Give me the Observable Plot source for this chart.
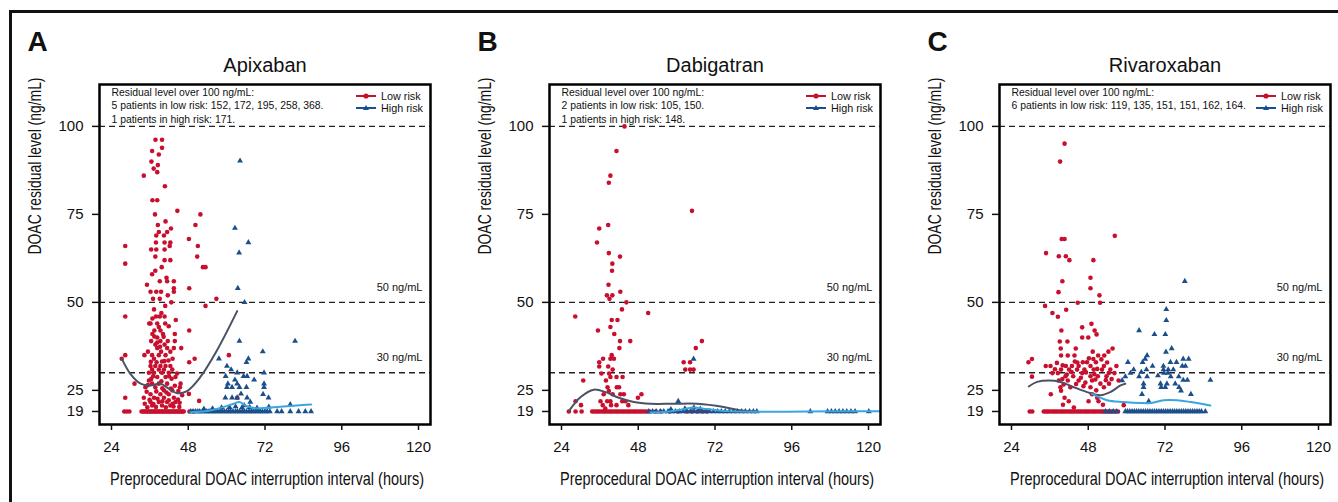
<!DOCTYPE html>
<html><head><meta charset="utf-8">
<script src="https://cdn.jsdelivr.net/npm/d3@7"></script>
<script src="https://cdn.jsdelivr.net/npm/@observablehq/plot@0.6"></script>
<style>
body{margin:0;background:#fff;}
#wrap{position:relative;width:1338px;height:502px;overflow:hidden;background:#fff;font-family:"Liberation Sans",Arial,sans-serif;}
#border{position:absolute;left:9px;top:10px;width:1400px;height:600px;border:3px solid #111;box-sizing:border-box;pointer-events:none;z-index:5;}
.panel{position:absolute;top:0;}
.legend{position:absolute;top:89px;z-index:4;}
</style></head>
<body><div id="wrap"><div id="border"></div></div>
<script>
// ---------- data ----------
const xTicks = [24, 48, 72, 96, 120];
const yTicks = [19, 25, 50, 75, 100];
const refLines = [100, 50, 30];
const refLabels = [50, 30];
const floorValue = 19;
const drugs = ["Apixaban", "Dabigatran", "Rivaroxaban"];
const letters = ["A", "B", "C"];
const notes = [
  "Residual level over 100 ng/mL:\n5 patients in low risk: 152, 172, 195, 258, 368.\n1 patients in high risk: 171.",
  "Residual level over 100 ng/mL:\n2 patients in low risk: 105, 150.\n1 patients in high risk: 148.",
  "Residual level over 100 ng/mL:\n6 patients in low risk: 119, 135, 151, 151, 162, 164."
];
const riskLabels = ["Low risk", "High risk"];

// Apixaban
const apixabanLow = [[37.75,96.2],[39.8,96.2],[39.8,93.9],[36.7,93],[38.8,92],[36.5,90],[38.5,89],[37.2,88],[38.3,87],[34.1,86],[40.7,83],[36.8,79],[38.3,79],[44.6,76],[37.6,75],[51.8,75],[50.25,72],[40.9,73],[38.5,72],[42.6,71],[41.4,70],[38.8,70],[38,69],[40.4,69],[48.2,68],[28.3,66],[37.9,67],[40.6,67],[42.4,67],[51,66],[36.4,65],[38,65],[40.6,65],[42.2,66],[37.7,63],[40.6,62],[42.4,62],[50.8,63],[28.3,61],[52.6,60],[53.4,60],[39.7,60],[36.7,58],[37.7,59],[41.2,57],[39.1,56],[41.4,56],[43.5,56],[35.1,55],[48.3,54],[43.5,54],[36.2,53],[38,53],[39.5,53],[41.6,52],[43.5,53],[37,51],[39.1,51],[56.8,51],[42.7,50],[40.8,49],[53.4,49],[37.3,48],[39.6,47],[28.3,46],[37.9,46],[39.1,46],[40.6,46],[44.1,45],[36.2,44],[38.3,44],[40.8,44],[35.8,44],[38.8,43],[37.4,42],[39.3,42],[48.3,42],[40.1,41],[36.8,41],[43.8,41],[38.3,40],[36.4,39],[39.3,39],[41.6,39],[43.8,39],[37.7,38],[40.6,38],[38.3,37],[41.4,37],[43.5,37],[45.8,37],[35.4,36],[39.5,36],[42.4,36],[34.3,35],[36.7,35],[38.8,35],[40.9,35],[28.3,35],[27.2,34],[50,34],[48.3,33],[37.3,34],[43.1,34],[36.2,31.9],[37.7,31.9],[39.3,31.9],[40.9,31.9],[42.4,31.9],[60.7,35],[36.7,30.9],[38.8,30.9],[40.4,30.9],[43,30.9],[35.7,30],[37.3,30],[39.8,30],[41.9,30],[35.7,27.8],[38.3,28.8],[40.9,28.8],[44,28.8],[44.5,29.8],[31.2,26.9],[36.7,26.9],[38.8,26.9],[41.4,26.9],[45.6,26.9],[34.6,25.9],[37.7,25.9],[40.4,25],[43,25],[45.4,25.9],[48.2,24],[36.2,23.9],[39.3,23.9],[41.9,23.9],[28.3,22.9],[34.1,22.9],[37.3,22.9],[40.4,22.9],[43.5,22.9],[63.3,22.9],[51.4,22],[36.2,21.7],[38.8,21.7],[41.4,21.7],[44,21.7],[36.7,20.7],[39.8,20.7],[42.4,20.7],[35.2,20.2],[37.9,20.3],[41,20.2],[43.4,20.4],[45.2,20.3],[44.8,22.4],[46.1,23.6],[35,24.6],[38,24.7],[42.6,25.5],[39.6,27.6],[37,29],[42.8,28.3],[36.3,33.1],[39.8,33.2],[41.8,33.5],[38.3,38.6],[40.3,40.2],[34.4,21.2],[35.9,22.3],[37.1,21.1],[38.4,22.6],[39.9,21.9],[41.9,22.2],[43.1,21.2],[45.3,21.5],[35.4,26.5],[36.4,28.2],[39.9,25.6],[41.2,24.4],[43.8,26.3],[44.9,24.8],[38.1,33],[40.5,33.3],[42,29],[39.2,37.4],[37.4,40.3],[41.9,43.2],[36.8,45.4]];
const apixabanLowFloor = [28,28.8,29.6,33.4,33.9,34.2,34.7,35.1,35.4,35.9,36.3,36.6,37.1,37.4,37.9,38.2,38.7,39,39.5,39.8,40.3,40.6,41.1,41.4,41.9,42.2,42.7,43,43.5,43.8,44.3,44.6,45.1,45.4,45.9,46.2,46.6,48.4,49.6];
const apixabanHigh = [[64.2,90.2],[62.6,71.1],[66.8,67],[63.9,64.1],[63.5,54],[65.6,50],[64,39],[81.4,39],[71.3,36],[57.6,34],[66.8,34],[66.2,33],[60.1,31.9],[61.4,30.9],[63.3,30],[65.3,29],[59.7,29],[71.7,30],[68.6,28],[62.6,28],[66.4,29],[60.1,25.9],[61.7,25.9],[64,25.9],[66.2,25.9],[71.7,26.9],[71.7,25.9],[60.4,26.9],[63.3,26.9],[64.5,24],[59.6,22.9],[61.7,22.9],[63.3,22.9],[66.4,22.9],[71.4,23.9],[73.1,22.9],[67.4,21.7],[65.5,20.7],[79.9,21],[73.2,20.3],[58.4,20.1],[60.9,20.2],[62.8,20.4],[64.8,20.1],[67.2,20.2],[69.5,20],[55.6,19.8],[52.9,19.7]];
const apixabanHighFloor = [48.8,49.5,50.3,51,51.6,52.4,53,53.8,54.5,55.1,55.9,56.5,57.2,58,58.6,59.3,60,60.7,61.3,62,62.8,63.4,64.1,64.9,65.5,66.2,67,67.7,68.3,69.1,69.8,70.5,71.2,72,72.7,73.5,75.8,77.2,79.9,82.5,84.6,86.4];
const apixabanLowFit = [[27.2,34],[29.9,29.7],[33.1,26.9],[36.2,26.4],[39.3,26.9],[41.9,25.5],[44.5,24.2],[47.6,24.8],[51.8,28.8],[57,36.4],[63.3,47.5]];
const apixabanHighFit = [[48.7,18.8],[54.9,19.3],[59.1,20.3],[62.2,21.2],[64,21.7],[66.4,20.5],[69.5,19.9],[75.8,20.3],[82,20.7],[86.4,21]];

// Dabigatran
const dabigatranLow = [[43.7,100],[41.2,93],[39.3,86],[38.8,84],[64.8,76],[35.8,71],[38.6,72],[35.1,67],[42.3,63],[38.8,64],[39.9,61],[39.8,59],[38.7,55],[42.4,53],[38.2,52],[39.9,52],[39,51],[44.3,50],[28.3,46],[42.9,48],[51.1,47],[39.7,45],[41.5,45],[39.3,43],[35.4,42],[40.5,41],[42.3,39],[45.5,39],[67.9,39],[42.1,37],[66,37],[37,34],[39.7,35],[39.3,34],[40.4,34],[35.8,33],[35.8,31.8],[38.6,31.8],[62.2,33],[64.2,33],[40,30.9],[62.7,30.9],[64.2,30.9],[65.3,30.9],[36.5,29.8],[38.9,29.8],[30.8,27.8],[41.2,28.8],[43.1,28.8],[37.9,27.8],[39.3,28.8],[38.4,25.9],[41.3,25.9],[42,25.9],[38.8,24.8],[40,23.9],[37.2,23.9],[42.4,23.9],[43.5,23.9],[49,23.9],[47.9,22.9],[28.4,21.9],[36.2,21.9],[38.3,21.9],[39.3,21.9],[43,21.9],[44,21.9],[30.1,20.8],[36.9,20.8],[39.5,20.8],[41.2,20.8],[44.9,20.8],[37.7,19.8]];
const dabigatranLowFloor = [26.3,28.4,30.3,33.6,34.2,34.9,35.5,36.1,36.8,37.4,38,38.7,39.3,39.9,40.6,41.2,41.8,42.5,43.1,43.7,44.4,45,45.6,46.3,46.9,47.5,48.2,48.8,49.4,50.1,50.8,51.6,53.5,55,57.8,60.5,63.2,64.8,66.5,68.1,69.5];
const dabigatranHigh = [[65.3,33.9],[60.5,21.9],[65.4,20.1],[58.2,19.6],[62.6,19.8],[67.4,19.7]];
const dabigatranHighFloor = [51.3,52.5,53.6,54.9,56,57.3,58.5,59.6,60.8,62,63.2,64.3,65.5,66.7,67.9,69,70.3,71.5,72.8,74,75.2,76.5,77.8,79,80.3,81.5,82.8,84,85.1,101.8,107.2,108.4,109.6,110.8,112,113.2,114.5,115.8,120.1];
const dabigatranLowFit = [[26.3,19.1],[30,23.1],[34.1,25.2],[37.8,24.5],[41.9,22.9],[46.6,21.7],[51.8,21.2],[59.1,21.2],[66.4,21.2],[74.7,20.3],[80,19.3],[85,19]];
const dabigatranHighFit = [[51.8,18.7],[57,18.9],[61.2,19.5],[65.4,20.1],[69.5,19.7],[75.8,19.1],[85.1,18.9],[100.8,19],[123.7,19.1]];

// Rivaroxaban
const rivaroxabanLow = [[40.6,95.1],[39.2,90],[39.7,68],[40.6,68],[56.3,68.9],[34.8,64],[38.8,63.1],[41,63.1],[42.1,62],[49.6,62],[48.7,57],[39.9,56],[48.7,54],[38.7,52.9],[51.5,52],[44.7,49.9],[51.7,49.9],[34.5,49],[41.1,47.9],[36.8,47],[38.5,45.9],[49,43.9],[39.6,42],[46.1,42.9],[50,42],[46.1,40],[48,40],[50.6,40.9],[39.1,38.9],[41.5,38.9],[44.1,36.9],[39.4,36.9],[49.4,36],[54.3,36],[55.6,36.9],[29.3,33],[30.4,33.9],[39.5,34.9],[41.6,34.9],[43.7,34.9],[46.3,33],[47.6,33],[49.6,33.9],[51.1,34.9],[53,34.9],[50.4,33],[34.7,31.9],[36.2,31.9],[41,31.9],[42.9,31.9],[45,31.9],[48.7,31.9],[52.9,31.9],[56.8,31.9],[36.8,29.9],[39.5,30.9],[42,30.9],[44.5,30.9],[46.8,30.9],[49.7,30.9],[52.3,30.9],[54.9,30.9],[38.5,29.9],[40.9,29],[43.3,29],[46.1,29.9],[48.7,29],[51,29],[53.7,29],[56.2,29.9],[30.4,28.9],[57.5,27.8],[38.8,27.8],[41.6,27.8],[45,27.8],[49.2,27.8],[51.8,26.9],[54.5,26.9],[39.3,25.9],[42.4,25.9],[48.7,25.9],[52.9,25.9],[36.3,23.9],[39.5,24.9],[40.6,22.9],[41.9,21.9],[49.2,23.9],[50.8,22.9],[48.1,21.9],[52.6,20.9],[59.1,20.8],[43.5,20.1],[40.1,20.9],[51.2,21.9],[37.6,31],[40,32.1],[43.8,33.2],[47.3,30.1],[50.8,31.1],[53.9,32.9],[39.9,28.2],[44.2,26.8],[47.1,27.2],[50.2,28.1],[55.3,28.2],[42.8,30.2],[38.2,32.8],[44.6,32.9],[48.2,34.1],[52.1,33.8],[41.3,29.5],[45.7,28.6],[49.9,29.6],[54.4,29.9],[40.3,26.7],[46.5,26.2],[50.5,25],[53.5,27.9]];
const rivaroxabanLowFloor = [29.7,30.5,34.1,34.7,35.3,35.9,36.6,37.2,37.8,38.4,39.1,39.7,40.3,40.9,41.6,42.2,42.8,43.4,44.1,44.7,45.3,45.9,46.6,47.2,47.8,48.4,49.1,49.7,50.3,50.9,51.6,52.2,52.8,53.4,54.1,54.7,55.3,55.9,56.6,57.3];
const rivaroxabanHigh = [[78.2,56],[72.4,48],[72.4,44.9],[63.9,42],[68.7,40.9],[72.1,40.9],[74.1,36.9],[72.3,35.9],[66.4,34.9],[65.8,33.9],[77.7,33.9],[79.4,33.9],[60.4,33],[65,33],[68.1,31.9],[71.5,31.9],[73.7,33],[75.6,33],[77.4,31.9],[78.4,31.9],[62.2,30.9],[66.2,30.9],[71.5,30.9],[73,30.9],[59.6,28.9],[61.2,29.9],[63.9,28.9],[66.4,28.9],[71.7,29.9],[73.8,28.9],[76.3,28.9],[77.7,27.9],[79,27.9],[86.2,27.9],[58.6,27.8],[65.3,26.9],[70.6,26.9],[72.6,26.9],[75.2,26.9],[65.3,25.9],[70.8,25.9],[72.1,25.9],[76.4,25.9],[77,24.9],[80.1,23.9],[64.8,23.9],[66.9,21.9],[72.9,29.9],[74.6,30.9],[69.8,29.2],[64.6,30.2]];
const rivaroxabanHighFloor = [53.4,54.6,55.8,56.9,59.6,60.3,61,61.7,62.4,63.1,63.8,64.5,65.2,65.9,66.6,67.3,68,68.7,69.4,70.1,70.8,71.5,72.2,72.9,73.6,74.3,75,75.7,76.4,77.1,77.8,78.5,79.2,79.9,80.6,81.3,82,82.7,83.4,84.6];
const rivaroxabanLowFit = [[29.4,26.1],[32,27.4],[35.7,27.8],[39.3,27.4],[43.5,25.9],[47.6,24.5],[51.8,23.6],[54.9,24.5],[58.1,26.4],[59.6,26.9]];
const rivaroxabanHighFit = [[49.2,24],[53.9,22.2],[59.1,21.7],[64.3,21.4],[67.4,21.4],[71.6,22.2],[75.8,22.2],[80,21.7],[86.2,20.7]];

const xTitle = "Preprocedural DOAC interruption interval (hours)";
const yTitle = "DOAC residual level (ng/mL)";

// ---------- styles ----------
const RED = "#c8102e", BLUE = "#1b4f8c", DARK = "#4a5264", LIGHT = "#3aa6e0";
const FONT = "'Liberation Sans', Arial, sans-serif";

const panels = [
  {low: apixabanLow, lowFloor: apixabanLowFloor, high: apixabanHigh, highFloor: apixabanHighFloor, lowFit: apixabanLowFit, highFit: apixabanHighFit},
  {low: dabigatranLow, lowFloor: dabigatranLowFloor, high: dabigatranHigh, highFloor: dabigatranHighFloor, lowFit: dabigatranLowFit, highFit: dabigatranHighFit},
  {low: rivaroxabanLow, lowFloor: rivaroxabanLowFloor, high: rivaroxabanHigh, highFloor: rivaroxabanHighFloor, lowFit: rivaroxabanLowFit, highFit: rivaroxabanHighFit}
];

const wrap = document.getElementById("wrap");
panels.forEach((p, i) => {
  const offset = i * 450;
  const low = p.low.map(([x, y]) => ({x, y})).concat(p.lowFloor.map(x => ({x, y: floorValue})));
  const high = p.high.map(([x, y]) => ({x, y})).concat(p.highFloor.map(x => ({x, y: floorValue})));
  const plot = Plot.plot({
    width: 450, height: 502,
    marginLeft: 99, marginRight: 20, marginTop: 84, marginBottom: 78,
    x: {domain: [20.25, 123.75]},
    y: {domain: [15.3, 111.9]},
    style: {fontFamily: FONT, background: "transparent", overflow: "visible", color: "#111"},
    marks: [
      Plot.ruleY(refLines, {y: d => d, stroke: "#222", strokeWidth: 1.4, strokeDasharray: "6,4"}),
      Plot.text(refLabels, {y: d => d, text: d => `${d} ng/mL`, frameAnchor: "right", textAnchor: "end", dx: -8, dy: -15, fontSize: 11}),
      Plot.dot(low, {x: "x", y: "y", r: 2.3, fill: RED}),
      Plot.dot(high, {x: "x", y: "y", r: 2.2, symbol: "triangle", fill: BLUE}),
      Plot.line(p.lowFit, {x: d => d[0], y: d => d[1], stroke: DARK, strokeWidth: 2, curve: "catmull-rom", clip: true}),
      Plot.line(p.highFit, {x: d => d[0], y: d => d[1], stroke: LIGHT, strokeWidth: 2, curve: "catmull-rom", clip: true}),
      Plot.frame({stroke: "#000", strokeWidth: 2.5}),
      Plot.axisX({ticks: xTicks, tickSize: 6, tickPadding: 11, fontSize: 15, label: null, strokeWidth: 1.5}),
      Plot.axisY({ticks: yTicks, tickSize: 7, tickPadding: 9, fontSize: 15, label: null, strokeWidth: 1.5}),
      Plot.text([notes[i]], {text: d => d, frameAnchor: "top-left", dx: 12, dy: 1.5, lineAnchor: "top", textAnchor: "start", fontSize: 10.4, lineHeight: 1.3}),
      Plot.text([drugs[i]], {text: d => d, frameAnchor: "top", dy: -12.5, lineAnchor: "bottom", fontSize: 20}),
      Plot.text([letters[i]], {text: d => d, frameAnchor: "top-left", dx: -72, dy: -34, lineAnchor: "bottom", textAnchor: "start", fontSize: 28, fontWeight: "bold"}),
      Plot.text([yTitle], {text: d => d, frameAnchor: "left", dx: -64, dy: 0, rotate: -90, fontSize: 18}),
      Plot.text([xTitle], {text: d => d, frameAnchor: "bottom", dx: 2, dy: 60, lineAnchor: "bottom", fontSize: 19})
    ]
  });
  // condense axis titles to the reference's narrow type
  plot.querySelectorAll("text").forEach(t => {
    if (t.textContent === xTitle) { t.setAttribute("textLength", 314); t.setAttribute("lengthAdjust", "spacingAndGlyphs"); }
    if (t.textContent === yTitle) { t.setAttribute("textLength", 177); t.setAttribute("lengthAdjust", "spacingAndGlyphs"); }
  });
  plot.classList.add("panel");
  plot.style.left = offset + "px";
  plot.style.position = "absolute";
  plot.style.top = "0px";
  wrap.appendChild(plot);

  // legend
  const ns = "http://www.w3.org/2000/svg";
  const lg = document.createElementNS(ns, "svg");
  lg.setAttribute("width", 80); lg.setAttribute("height", 26);
  lg.setAttribute("class", "legend");
  lg.style.left = (offset + 355) + "px";
  const items = [{c: RED, sym: "dot", y: 7}, {c: BLUE, sym: "tri", y: 19}];
  items.forEach((it, k) => {
    const ln = document.createElementNS(ns, "line");
    ln.setAttribute("x1", 1); ln.setAttribute("x2", 21); ln.setAttribute("y1", it.y); ln.setAttribute("y2", it.y);
    ln.setAttribute("stroke", it.c); ln.setAttribute("stroke-width", 2);
    lg.appendChild(ln);
    if (it.sym === "dot") {
      const c = document.createElementNS(ns, "circle");
      c.setAttribute("cx", 11); c.setAttribute("cy", it.y); c.setAttribute("r", 2.6); c.setAttribute("fill", it.c);
      lg.appendChild(c);
    } else {
      const t = document.createElementNS(ns, "path");
      t.setAttribute("d", `M11,${it.y - 3}L14,${it.y + 2}L8,${it.y + 2}Z`); t.setAttribute("fill", it.c);
      lg.appendChild(t);
    }
    const tx = document.createElementNS(ns, "text");
    tx.setAttribute("x", 26); tx.setAttribute("y", it.y + 3.8);
    tx.setAttribute("font-size", 10.8); tx.setAttribute("font-family", FONT);
    tx.setAttribute("fill", "#111");
    tx.textContent = riskLabels[k];
    lg.appendChild(tx);
  });
  wrap.appendChild(lg);
});
</script></body></html>
